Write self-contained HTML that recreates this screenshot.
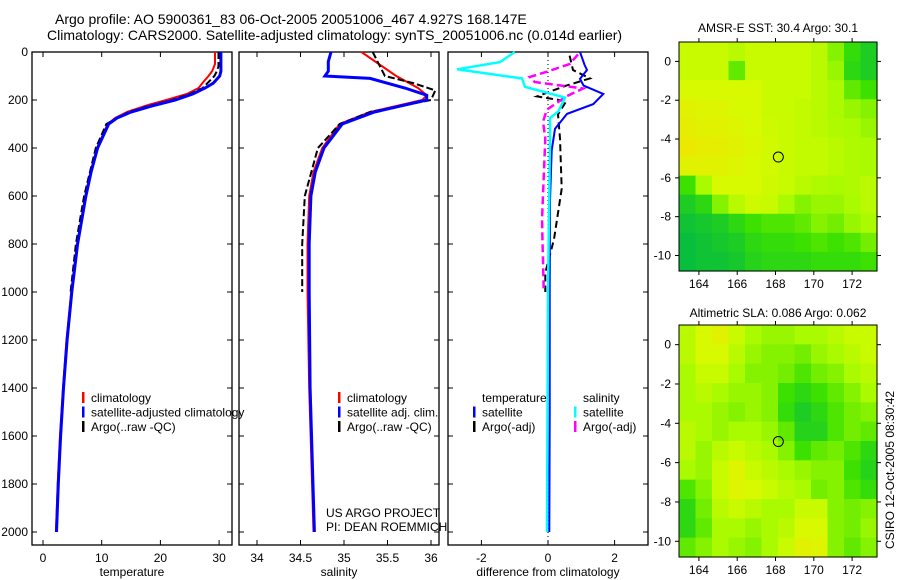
<!DOCTYPE html>
<html><head><meta charset="utf-8"><style>
html,body{margin:0;padding:0;background:#fff;}
svg{display:block;font-family:"Liberation Sans",sans-serif;}
</style></head><body>
<svg id="fig" width="900" height="580" viewBox="0 0 900 580">
<text x="55" y="24" font-size="14">Argo profile: AO 5900361_83 06-Oct-2005 20051006_467 4.927S 168.147E</text>
<text x="47" y="40" font-size="14">Climatology: CARS2000. Satellite-adjusted climatology: synTS_20051006.nc (0.014d earlier)</text>
<text x="778" y="32" font-size="12" text-anchor="middle">AMSR-E SST: 30.4  Argo: 30.1</text>
<text x="778" y="317" font-size="12" text-anchor="middle">Altimetric SLA: 0.086  Argo: 0.062</text>
<text transform="translate(894,470) rotate(-90)" font-size="12" text-anchor="middle">CSIRO 12-Oct-2005 08:30:42</text>
<text x="326" y="517" font-size="12">US ARGO PROJECT</text>
<text x="326" y="531" font-size="12">PI: DEAN ROEMMICH</text>
<g id="plots"></g>
</svg>
<script>
// ---- profile data (depth in m) ----
const tempDepth = [0,50,80,100,125,150,175,200,220,250,275,300,400,500,600,800,1000,1200,1400,1600,1800,2000];
const tempClim  = [29.3,29.3,28.8,28.2,27.3,26.5,24.5,21,18,14.3,12.3,11,9.2,8.1,7.2,5.8,4.8,4.0,3.4,2.9,2.5,2.2];
const tempSatDepth = [0,80,100,130,150,175,200,225,250,275,300,400,500,600,800,1000,1200,1400,1600,1800,2000];
const tempSat   = [30.3,30.3,30.1,29,27.6,25.5,22.5,18.5,15,12.6,11.2,9.3,8.2,7.3,5.9,4.9,4.1,3.5,3.0,2.6,2.3];
const tempArgoDepth = [0,60,80,100,150,175,200,225,250,300,400,600,800,1000];
const tempArgo  = [29.9,29.9,29.6,29.2,27.2,25,22,18,14.6,10.8,9.0,7.0,5.6,4.7];

const salClimDepth = [0,50,100,150,180,200,250,300,400,500,600,800,1000,1400,2000];
const salClim   = [35.2,35.4,35.6,35.85,35.95,35.9,35.3,34.95,34.75,34.65,34.6,34.58,34.58,34.6,34.65];
const salSatDepth = [0,40,80,100,110,150,180,200,250,300,400,500,600,800,1000,1400,2000];
const salSat    = [34.85,34.82,34.82,34.78,35.3,35.7,35.95,35.95,35.35,34.98,34.77,34.67,34.62,34.6,34.6,34.61,34.66];
const salArgoDepth = [0,100,130,160,200,250,300,400,600,800,1000];
const salArgo   = [35.33,35.47,35.8,36.05,36.0,35.3,34.95,34.7,34.55,34.52,34.52];

const dTSatDepth = [0,54,75,112,140,175,217,258,320,410,620,1000,1500,2000];
const dTSat     = [0.96,1.1,1.17,0.96,1.07,1.66,1.36,0.57,0.21,0.11,0.06,0.05,0.05,0.04];
const dSSatDepth = [0,42,72,110,145,190,248,275,360,1000,2000];
const dSSat     = [-1.0,-1.44,-2.73,-0.78,-0.69,0.51,0.31,0.06,0.06,0.0,-0.03];
const dSArgoDepth = [10,50,82,104,125,152,185,240,290,360,700,990];
const dSArgo    = [0.9,0.65,-0.03,-0.55,-0.4,1.05,0.55,-0.03,-0.15,-0.08,-0.18,-0.13];
const dTArgoDepth = [15,75,110,140,185,205,260,360,570,780,920,1000];
const dTArgo    = [0.65,0.75,1.26,0.55,-0.33,0.55,0.3,0.36,0.41,0.18,-0.08,-0.08];

const depthTicks = [0,200,400,600,800,1000,1200,1400,1600,1800,2000];
const tempTicks = [0,10,20,30];
const salTicks = [34,34.5,35,35.5,36];
const salTickLabels = ["34","34.5","35","35.5","36"];
const diffTicks = [-2,0,2];

// ---- map data (rows top->bottom, cols west->east) ----
const latTicks = [0,-2,-4,-6,-8,-10];
const lonTicks = [164,166,168,170,172];
const sstGrid = [
[.8,.8,.8,.75,.8,.8,.8,.8,.75,.6,.35,.2],
[.8,.8,.8,.5,.8,.8,.8,.8,.75,.65,.3,.2],
[.85,.85,.85,.85,.85,.8,.8,.8,.75,.7,.5,.4],
[.9,.88,.88,.85,.85,.8,.8,.78,.75,.7,.65,.6],
[.92,.9,.9,.88,.85,.82,.8,.78,.75,.72,.7,.65],
[.95,.93,.92,.9,.87,.83,.8,.78,.78,.75,.72,.7],
[.9,.9,.9,.88,.85,.83,.8,.78,.78,.75,.72,.7],
[.4,.7,.85,.85,.85,.82,.8,.75,.72,.7,.72,.75],
[.2,.3,.6,.75,.82,.8,.7,.6,.65,.65,.7,.75],
[.1,.15,.2,.3,.4,.45,.45,.5,.6,.55,.65,.7],
[.05,.1,.15,.2,.3,.35,.35,.4,.45,.4,.45,.55],
[.05,.1,.1,.15,.25,.3,.3,.3,.35,.35,.35,.4]];
const slaGrid = [
[.75,.85,.9,.8,.7,.65,.65,.7,.7,.75,.8,.8],
[.75,.85,.85,.75,.65,.6,.6,.55,.65,.7,.75,.8],
[.7,.8,.8,.7,.6,.6,.55,.45,.55,.6,.7,.75],
[.7,.75,.7,.65,.65,.6,.4,.3,.4,.5,.6,.7],
[.7,.7,.65,.6,.65,.6,.35,.2,.3,.45,.55,.6],
[.75,.7,.65,.7,.7,.65,.5,.25,.25,.45,.55,.5],
[.75,.65,.75,.8,.75,.7,.6,.4,.5,.55,.45,.3],
[.7,.65,.8,.88,.8,.75,.7,.65,.6,.6,.4,.25],
[.45,.6,.8,.88,.85,.8,.75,.7,.55,.6,.45,.35],
[.3,.55,.75,.8,.75,.7,.7,.8,.8,.6,.55,.6],
[.3,.5,.7,.7,.65,.7,.75,.85,.85,.6,.55,.65],
[.5,.6,.7,.65,.6,.7,.8,.9,.88,.6,.5,.6]];
const floatLon = 168.147, floatLat = -4.927;

const NS="http://www.w3.org/2000/svg";
const root=document.getElementById('plots');
function mk(tag,attrs,parent){const e=document.createElementNS(NS,tag);for(const k in attrs)e.setAttribute(k,attrs[k]);(parent||root).appendChild(e);return e;}
const yD = d => 52 + d*0.24;

function panel(name,x0,x1,xs,ticks,labels,xlabel,showY){
  const g=mk('g',{});
  
  
  const fr=mk('rect',{x:x0,y:52,width:x1-x0,height:493,fill:'none',stroke:'#000','stroke-width':1.3},g);
  
  
  ticks.forEach((t,i)=>{const x=xs(t);
    mk('line',{x1:x,x2:x,y1:545,y2:540,stroke:'#000'},g);mk('line',{x1:x,x2:x,y1:52,y2:57,stroke:'#000'},g);
    const tx=mk('text',{x:x,y:562,'font-size':12,'text-anchor':'middle'},g);tx.textContent=labels[i];
    
    });
  depthTicks.forEach(d=>{const y=yD(d);
    mk('line',{x1:x0,x2:x0+5,y1:y,y2:y,stroke:'#000'},g);mk('line',{x1:x1,x2:x1-5,y1:y,y2:y,stroke:'#000'},g);
    if(showY){const tx=mk('text',{x:x0-4,y:y+4,'font-size':12,'text-anchor':'end'},g);tx.textContent=d;
      
      }});
  const xl=mk('text',{x:(x0+x1)/2,y:576,'font-size':12,'text-anchor':'middle'},g);xl.textContent=xlabel;
  
  
  return g;
}
function line(g,name,xs,vals,depths,color,w,dash){
  const pts=vals.map((v,i)=>xs(v).toFixed(1)+','+yD(depths[i]).toFixed(1)).join(' ');
  const p=mk('polyline',{points:pts,fill:'none',stroke:color,'stroke-width':w,'stroke-dasharray':dash||'none'},g);
  
  
}
function legend(g,items,x,y){
  items.forEach((it,i)=>{const yy=y+i*14.5;
    if(it[1]) mk('rect',{x:x,y:yy-10,width:2.5,height:11,fill:it[1]},g);
    const t=mk('text',{x:x+9,y:yy,'font-size':12},g);t.textContent=it[0];
    
    });
}
// Temperature
const xT=t=>43+5.87*t;
const g1=panel('temperature-panel',32,232,xT,tempTicks,tempTicks.map(String),'temperature',true);
line(g1,'temp-climatology',xT,tempClim,tempDepth,'#f00',2);
line(g1,'temp-argo',xT,tempArgo,tempArgoDepth,'#000',2,'7,3');
line(g1,'temp-satellite',xT,tempSat,tempSatDepth,'#00f',3);
legend(g1,[['climatology','#f00'],['satellite-adjusted climatology','#00f'],['Argo(..raw -QC)','#000']],82,402);
// Salinity
const xS=s=>257+87*(s-34);
const g2=panel('salinity-panel',239,439,xS,salTicks,salTickLabels,'salinity',false);
line(g2,'sal-climatology',xS,salClim,salClimDepth,'#f00',2);
line(g2,'sal-argo',xS,salArgo,salArgoDepth,'#000',2,'7,3');
line(g2,'sal-satellite',xS,salSat,salSatDepth,'#00f',3);
legend(g2,[['climatology','#f00'],['satellite adj. clim.','#00f'],['Argo(..raw -QC)','#000']],338,402);
// Difference
const xDf=d=>548+33.3*d;
const g3=panel('difference-panel',448,648,xDf,diffTicks,diffTicks.map(String),'difference from climatology',false);
mk('line',{x1:548,x2:548,y1:52,y2:545,stroke:'#000','stroke-dasharray':'1,3'},g3);
line(g3,'diff-temp-argo',xDf,dTArgo,dTArgoDepth,'#000',2,'7,4');
line(g3,'diff-sal-argo',xDf,dSArgo,dSArgoDepth,'#f0f',2.5,'8,4');
line(g3,'diff-temp-satellite',xDf,dTSat,dTSatDepth,'#00f',2);
line(g3,'diff-sal-satellite',xDf,dSSat,dSSatDepth,'#0ff',2.5);
legend(g3,[['temperature',null],['satellite','#00f'],['Argo(-adj)','#000']],473,402);
legend(g3,[['salinity',null],['satellite','#0ff'],['Argo(-adj)','#f0f']],574,402);

// Maps
function cmap(v){const st=[[0,[0,185,70]],[0.4,[60,225,0]],[0.7,[170,250,0]],[0.85,[215,250,0]],[1,[245,225,0]]];
  for(let i=1;i<st.length;i++){if(v<=st[i][0]){const a=st[i-1],b=st[i],f=(v-a[0])/(b[0]-a[0]);
    return 'rgb('+a[1].map((c,k)=>Math.round(c+(b[1][k]-c)*f)).join(',')+')';}}return 'rgb(245,225,0)';}
function map(name,grid,top,bottom){
  const g=mk('g',{});
  
  
  const lon0=162.96,lon1=173.3,lat0=1.0,lat1=-10.8,x0=679,x1=877;
  const xL=l=>x0+(l-lon0)/(lon1-lon0)*(x1-x0), yL=l=>top+(lat0-l)/(lat0-lat1)*(bottom-top);
  const rows=grid.length,cols=grid[0].length,cw=(x1-x0)/cols,ch=(bottom-top)/rows;
  grid.forEach((r,i)=>r.forEach((v,j)=>{const c=mk('rect',{x:x0+j*cw,y:top+i*ch,width:cw+0.6,height:ch+0.6,fill:cmap(v)},g);
    
    }));
  mk('rect',{x:x0,y:top,width:x1-x0,height:bottom-top,fill:'none',stroke:'#000'},g);
  latTicks.forEach(l=>{const y=yL(l);mk('line',{x1:x0,x2:x0-4,y1:y,y2:y,stroke:'#000'},g);mk('line',{x1:x1,x2:x1+4,y1:y,y2:y,stroke:'#000'},g);
    const t=mk('text',{x:x0-8,y:y+4,'font-size':12,'text-anchor':'end'},g);t.textContent=l;
    
    });
  lonTicks.forEach(l=>{const x=xL(l);mk('line',{x1:x,x2:x,y1:bottom,y2:bottom+4,stroke:'#000'},g);mk('line',{x1:x,x2:x,y1:top,y2:top-4,stroke:'#000'},g);
    const t=mk('text',{x:x,y:bottom+17,'font-size':12,'text-anchor':'middle'},g);t.textContent=l;
    
    });
  const c=mk('circle',{cx:xL(floatLon),cy:yL(floatLat),r:5,fill:'none',stroke:'#000'},g);
  
  
}
map('sst-map',sstGrid,42,271);
map('sla-map',slaGrid,325,557);
</script>
</body></html>
